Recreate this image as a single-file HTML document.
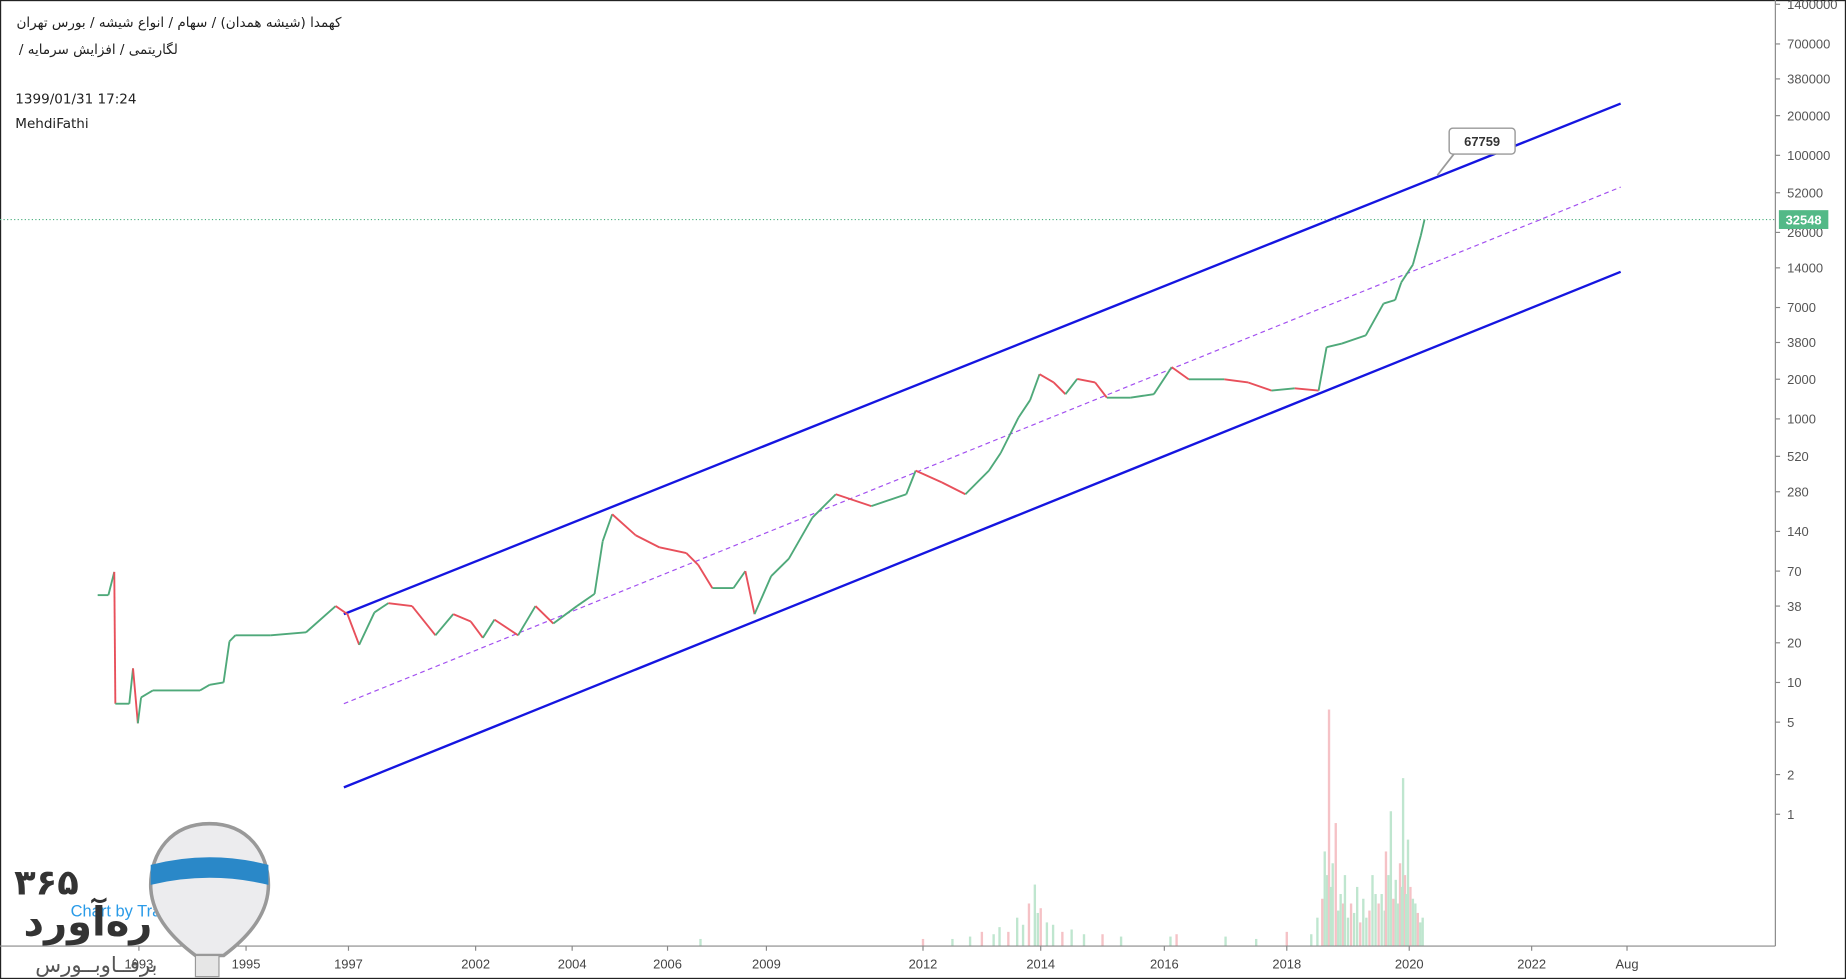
<!DOCTYPE html>
<html><head><meta charset="utf-8">
<style>
html,body{margin:0;padding:0;background:#fff;width:1846px;height:979px;overflow:hidden}
svg{display:block}
text{font-family:"Liberation Sans","Noto Sans CJK SC",sans-serif}
</style></head>
<body>
<svg id="chart" width="1846" height="979" viewBox="0 0 1568 832" preserveAspectRatio="none" xmlns="http://www.w3.org/2000/svg">
<rect x="0.5" y="0.5" width="1567" height="831" fill="#fff" stroke="#222" stroke-width="1"/>
<g id="vol"></g>
<g id="grid"></g>
<g id="channel"></g>
<g id="price"></g>
<g font-size="11.5" fill="#222">
<text x="14" y="23" style="font-family:'DejaVu Sans',sans-serif">کهمدا (شیشه همدان) / سهام / انواع شیشه / بورس تهران</text>
<text x="16" y="46" style="font-family:'DejaVu Sans',sans-serif">/ لگاریتمی / افزایش سرمایه</text>
<text x="13" y="88" style="font-family:'DejaVu Sans',sans-serif">1399/01/31 17:24</text>
<text x="13" y="109" style="font-family:'DejaVu Sans',sans-serif">MehdiFathi</text>
</g>
<g>
<text x="60" y="779" font-size="14" fill="#2a9be8">Chart by Tra</text>
<path d="M178 700 C145 700 128 725 128 752 C128 780 150 800 166 812 L190 812 C206 800 228 780 228 752 C228 725 211 700 178 700 Z" fill="#ececee" stroke="#999" stroke-width="3"/>
<path d="M128 735 Q178 722 228 735 L228 752 Q178 740 128 752 Z" fill="#2a88c8"/>
<rect x="166" y="812" width="20" height="18" fill="#e6e6e6" stroke="#999"/>
<text x="12" y="760" font-size="30" font-weight="bold" fill="#333" style="font-family:'DejaVu Sans',sans-serif">۳۶۵</text>
<text x="20" y="795" font-size="34" font-weight="bold" fill="#333" style="font-family:'DejaVu Sans',sans-serif">ره‌آورد</text>
<text x="30" y="826" font-size="18" fill="#555" style="font-family:'DejaVu Sans',sans-serif">برفــاوبــورس</text>
</g>
</svg>
<script>
// price data (decimal years, price)
const priceYears=[1992.23,1992.43,1992.54,1992.56,1992.82,1992.89,1992.98,1993.04,1993.26,1994.14,1994.32,1994.58,1994.69,1994.80,1995.48,1996.17,1996.75,1996.98,1997.42,1998.02,1998.57,1999.50,2000.42,2001.12,2001.81,2002.15,2002.39,2002.88,2003.24,2003.61,2004.10,2004.47,2004.64,2004.84,2005.33,2005.83,2006.57,2006.93,2007.36,2008.0,2008.36,2008.64,2009.09,2009.43,2009.88,2010.33,2011.01,2011.68,2011.86,2012.32,2012.72,2013.12,2013.32,2013.62,2013.82,2013.98,2014.21,2014.40,2014.59,2014.88,2015.07,2015.45,2015.83,2016.12,2016.40,2016.98,2017.37,2017.75,2018.13,2018.52,2018.65,2018.90,2019.29,2019.58,2019.77,2019.87,2020.06,2020.19,2020.25];
const priceValues=[46,46,69,6.9,6.9,12.8,4.9,7.7,8.7,8.7,9.6,10,20.5,22.8,22.8,24,38,33,19.3,34,40,38,22.8,33,29,21.8,30,22.8,38,28,38,47,118,189,131,106,96,78,52,52,70,33,64,87,178,268,218,268,405,330,268,405,551,1020,1390,2185,1890,1540,2010,1890,1450,1450,1540,2470,1995,1995,1890,1640,1705,1640,3500,3730,4300,7500,7980,10860,14800,24700,32548];
// axis ticks
const yTicks=[1400000,700000,380000,200000,100000,52000,26000,14000,7000,3800,2000,1000,520,280,140,70,38,20,10,5,2,1];
const xTickLabels=["1993","1995","1997","2002","2004","2006","2009","2012","2014","2016","2018","2020","2022","Aug"];
const xTickYears=[1993,1995,1997,2002,2004,2006,2009,2012,2014,2016,2018,2020,2022,2022.6];
// channel lines [startYear,startVal,endYear,endVal]
const upperLine=[1996.91,33,2022.56,247000];
const lowerLine=[1996.91,1.6,2022.56,13060];
const midLine=[1996.91,6.9,2022.56,57400];
const lastPrice=32548;
const calloutValue=67759;
// volume data
const volYears=[2007.0,2012.0,2012.5,2012.8,2013.0,2013.2,2013.3,2013.45,2013.6,2013.7,2013.8,2013.9,2013.95,2014.0,2014.1,2014.2,2014.35,2014.5,2014.7,2015.0,2015.3,2016.1,2016.2,2017.0,2017.5,2018.0,2018.4,2018.5,2018.58,2018.62,2018.66,2018.69,2018.72,2018.75,2018.8,2018.84,2018.88,2018.92,2018.95,2019.0,2019.05,2019.1,2019.15,2019.2,2019.25,2019.3,2019.35,2019.4,2019.45,2019.5,2019.55,2019.6,2019.62,2019.66,2019.7,2019.74,2019.78,2019.82,2019.85,2019.88,2019.9,2019.93,2019.95,2019.98,2020.02,2020.06,2020.1,2020.14,2020.18,2020.22];
const volValues=[3,3,3,4,6,5,8,6,12,9,18,26,14,16,10,9,6,7,5,5,4,4,5,4,3,6,5,12,20,40,30,100,25,35,52,15,22,18,30,12,18,14,25,10,20,12,15,30,22,18,22,15,40,30,57,20,28,18,35,25,71,30,22,45,25,20,18,14,10,12];

const SVGNS="http://www.w3.org/2000/svg";
const AX=1508, BOT=804;
const xAnch=[1993,1995,1997,2002,2004,2006,2009,2012,2014,2016,2018,2020,2022,2022.6];
const xPix=[118,209,296,404,486,567,651,784,884,989,1093,1197,1301,1382];
function xs(yr){
  let i=0; if(yr<xAnch[0]) i=0; else { while(i<xAnch.length-2 && yr>xAnch[i+1]) i++; }
  return xPix[i]+(yr-xAnch[i])*(xPix[i+1]-xPix[i])/(xAnch[i+1]-xAnch[i]);
}
function ys(v){return 692-112*Math.log10(v);}
function mk(tag,attrs,parent){const e=document.createElementNS(SVGNS,tag);for(const k in attrs)e.setAttribute(k,attrs[k]);parent.appendChild(e);return e;}

const grid=document.getElementById('grid');
let e=mk('line',{x1:AX,y1:0,x2:AX,y2:BOT,stroke:'#888','stroke-width':1},grid);


e=mk('line',{x1:0,y1:BOT,x2:AX,y2:BOT,stroke:'#888','stroke-width':1},grid);


yTicks.forEach(v=>{
  const y=ys(v);
  mk('line',{x1:AX,y1:y,x2:AX+4,y2:y,stroke:'#888'},grid);
  const t=mk('text',{x:AX+10,y:y+4,'font-size':11,fill:'#555'},grid);
  t.textContent=v;
  
  
});
xTickYears.forEach((yr,i)=>{
  const x=xs(yr);
  mk('line',{x1:x,y1:BOT,x2:x,y2:BOT+4,stroke:'#888'},grid);
  const t=mk('text',{x:x,y:BOT+19,'font-size':11,fill:'#444','text-anchor':'middle'},grid);
  t.textContent=xTickLabels[i];
  
  
});

// volume
const vol=document.getElementById('vol');
const vmax=Math.max(...volValues);
volYears.forEach((yr,i)=>{
  const h=volValues[i]/vmax*201;
  const up=i%3!==1;
  const r=mk('rect',{x:xs(yr)-1,y:BOT-h,width:2,height:h,fill:up?'#bfe6cf':'#f5c2c6'},vol);
  
  
});

// channel
const ch=document.getElementById('channel');
[[upperLine,'upper-channel-line','#1515e0','',2],[lowerLine,'lower-channel-line','#1515e0','',2],[midLine,'mid-channel-line','#a24ff0','4,3',1]].forEach(([l,n,c,d,w])=>{
  const ln=mk('line',{x1:xs(l[0]),y1:ys(l[1]),x2:xs(l[2]),y2:ys(l[3]),stroke:c,'stroke-width':w,'stroke-dasharray':d},ch);
  
  
});

// last price line and label
const py=ys(lastPrice);
e=mk('line',{x1:0,y1:py,x2:AX,y2:py,stroke:'#4caf7f','stroke-width':1,'stroke-dasharray':'1,2'},grid);


e=mk('rect',{x:AX+3,y:py-8,width:42,height:16,fill:'#53b987'},grid);


e=mk('text',{x:AX+24,y:py+4,'font-size':11,fill:'#fff','text-anchor':'middle','font-weight':'bold'},grid);
e.textContent=lastPrice;



// callout
const cx=xs(2020.46), cy=ys(calloutValue)-2;
e=mk('path',{d:`M${cx} ${cy} L${cx+14} ${cy-18}`,stroke:'#999','stroke-width':1.5,fill:'none'},ch);
e=mk('rect',{x:cx+10,y:cy-40,width:56,height:22,rx:3,fill:'#fff',stroke:'#999','stroke-width':1.2},ch);


e=mk('text',{x:cx+38,y:cy-25,'font-size':11,fill:'#333','text-anchor':'middle','font-weight':'bold'},ch);
e.textContent=calloutValue;



// price series
const pg=document.getElementById('price');
for(let i=1;i<priceYears.length;i++){
  const up=priceValues[i]>=priceValues[i-1];
  const s=mk('line',{x1:xs(priceYears[i-1]),y1:ys(priceValues[i-1]),x2:xs(priceYears[i]),y2:ys(priceValues[i]),stroke:up?'#4fa97a':'#e8505b','stroke-width':1.6},pg);
  
  
}
</script>
</body></html>
